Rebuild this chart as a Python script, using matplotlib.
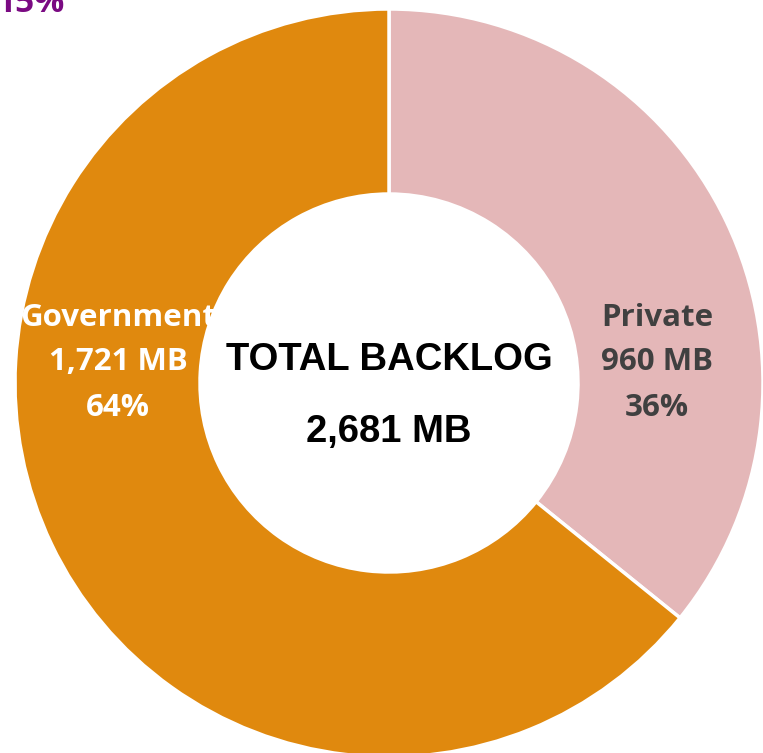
import matplotlib.pyplot as plt

segments = ["Private", "Government"]
sizes_mb = [960, 1721]
percents = ["36%", "64%"]
colors = ["#E4B7B8", "#E0890E"]
label_colors = ["#404040", "white"]
total_mb = sum(sizes_mb)

W, H = 763, 753
fig = plt.figure(figsize=(W / 100, H / 100), dpi=100)
ax = fig.add_axes([0, 0, 1, 1])

cx, cy, r = 389, H - 383, 374
wedges, _ = ax.pie(
    sizes_mb,
    colors=colors,
    startangle=90,
    counterclock=False,
    center=(cx, cy),
    radius=r,
    wedgeprops=dict(width=185, edgecolor="white", linewidth=2.5),
    frame=True,
)
ax.set_xlim(0, W)
ax.set_ylim(0, H)
ax.set_aspect("equal")
ax.axis("off")

# segment labels
label_pos = {"Private": (657, H - 362), "Government": (118, H - 362)}
for name, mb, pct, col in zip(segments, sizes_mb, percents, label_colors):
    x, y = label_pos[name]
    ax.text(x, y + 44, name, ha="center", va="center", color=col,
            fontsize=22.5, fontweight="bold", family="Open Sans")
    ax.text(x, y, f"{mb:,} MB", ha="center", va="center", color=col,
            fontsize=22.5, fontweight="bold", family="Open Sans")
    ax.text(x, y - 46, pct, ha="center", va="center", color=col,
            fontsize=22.5, fontweight="bold", family="Open Sans")

ax.text(cx, H - 360, "TOTAL BACKLOG", ha="center", va="center",
        fontsize=27.5, fontweight="bold", family="Liberation Sans")
ax.text(cx, H - 432, f"{total_mb:,} MB", ha="center", va="center",
        fontsize=27.5, fontweight="bold", family="Liberation Sans")

# stray label cut off at the top edge
ax.text(-3, H - 3, "15%", ha="left", va="center", color="#7A0A82",
        fontsize=24, fontweight="bold", family="Open Sans")

fig.savefig("out.png", dpi=100)
